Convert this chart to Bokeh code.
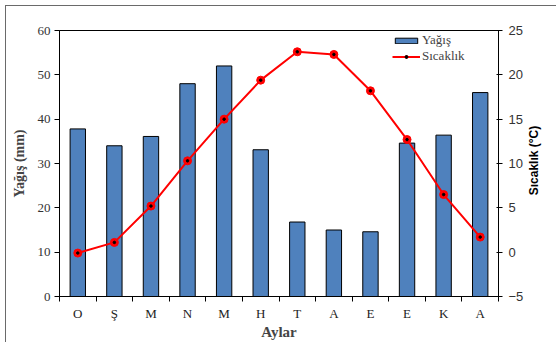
import math
from bokeh.plotting import figure
from bokeh.models import (LinearAxis, Range1d, FixedTicker, Legend, LegendItem,
                          ColumnDataSource, Label)
from bokeh.embed import file_html
from bokeh.resources import INLINE

months = ["O", "Ş", "M", "N", "M", "H", "T", "A", "E", "E", "K", "A"]
rain = [37.8, 34.0, 36.1, 48.0, 52.0, 33.1, 16.8, 15.0, 14.6, 34.6, 36.4, 46.0]
temp = [-0.1, 1.1, 5.2, 10.3, 15.0, 19.4, 22.6, 22.3, 18.2, 12.7, 6.5, 1.7]
left_ticks = [0, 10, 20, 30, 40, 50, 60]
right_ticks = [-5, 0, 5, 10, 15, 20, 25]

xs = list(range(len(months)))
src = ColumnDataSource(dict(x=xs, rain=rain, temp=temp))

SERIF = "Liberation Serif"
SANS = "Liberation Sans"

p = figure(width=551, height=337, output_backend="svg", toolbar_location=None,
           x_range=Range1d(-0.5, len(months) - 0.5), y_range=Range1d(0, 60),
           min_border_left=53, min_border_right=59, min_border_top=24,
           min_border_bottom=47)
p.margin = (5, 0, 0, 5)
p.styles = {"border-top": "1px solid #6a6a6a", "border-left": "1px solid #6a6a6a"}
p.background_fill_color = "white"
p.border_fill_color = "white"
p.grid.visible = False
p.outline_line_color = "black"
p.outline_line_width = 1

p.extra_y_ranges = {"t": Range1d(-5, 25)}

bars = p.vbar(x="x", top="rain", width=0.42, source=src, fill_color="#4F81BD",
              line_color="black", line_width=1)
ln = p.line(x="x", y="temp", source=src, y_range_name="t", line_color="#FF0000",
            line_width=2)
mk = p.scatter(x="x", y="temp", source=src, y_range_name="t", size=8,
               fill_color="#FF0000", line_color="#FF0000")
dot = p.scatter(x="x", y="temp", source=src, y_range_name="t", size=2.5,
                fill_color="black", line_color="black")

# x axis
xa = p.xaxis[0]
xa.ticker = FixedTicker(ticks=xs, minor_ticks=[i - 0.5 for i in range(len(months) + 1)])
xa.major_label_overrides = {i: m for i, m in enumerate(months)}
xa.major_tick_line_color = None
xa.minor_tick_line_color = "black"
xa.minor_tick_out = 5
xa.minor_tick_in = 0
xa.axis_line_color = "black"
xa.major_label_text_font = SERIF
xa.major_label_text_font_size = "13px"
xa.major_label_text_color = "#222222"
xa.major_label_standoff = 3
xa.axis_label = "Aylar"
xa.axis_label_text_font = SERIF
xa.axis_label_text_font_style = "bold"
xa.axis_label_text_font_size = "15px"
xa.axis_label_standoff = 0

# left axis
ya = p.yaxis[0]
ya.ticker = FixedTicker(ticks=left_ticks)
ya.minor_tick_line_color = None
ya.major_tick_out = 5
ya.major_tick_in = 0
ya.axis_line_color = "black"
ya.major_tick_line_color = "black"
ya.major_label_text_font = SERIF
ya.major_label_text_font_size = "13px"
ya.major_label_text_color = "#333333"
ya.major_label_standoff = 4
ya.axis_label = "Yağış (mm)"
ya.axis_label_text_font = SERIF
ya.axis_label_text_font_style = "bold"
ya.axis_label_text_font_size = "14px"
ya.axis_label_standoff = 8

# right axis
ra = LinearAxis(y_range_name="t", ticker=FixedTicker(ticks=right_ticks))
ra.minor_tick_line_color = None
ra.major_tick_out = 4
ra.major_tick_in = 2
ra.axis_line_color = "black"
ra.major_label_text_font = SANS
ra.major_label_text_font_size = "13px"
ra.major_label_text_color = "#333333"
ra.major_label_standoff = 6
p.add_layout(ra, "right")

rlabel = Label(x=7, y=136, x_units="screen", y_units="screen",
               text="Sıcaklık (°C)", angle=math.pi / 2, text_align="center",
               text_baseline="middle", text_font=SANS, text_font_style="bold",
               text_font_size="12px", text_color="black")
p.add_layout(rlabel, "right")

legend = Legend(items=[LegendItem(label="Yağış", renderers=[bars]),
                       LegendItem(label="Sıcaklık", renderers=[ln, mk, dot])],
                location=(333, 232))
legend.border_line_color = None
legend.background_fill_alpha = 0
legend.label_text_font = SERIF
legend.label_text_font_size = "13px"
legend.glyph_width = 28
legend.glyph_height = 7
legend.label_height = 12
legend.spacing = 0
legend.padding = 4
legend.label_standoff = 2
p.add_layout(legend, "center")

open("out.html", "w").write(file_html(p, INLINE))
